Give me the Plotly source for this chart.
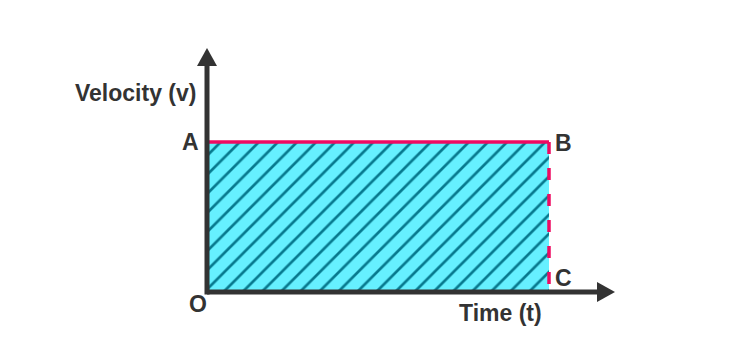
import plotly.graph_objects as go

# ---- data (arbitrary units) ----
t_end = [10.0]          # time at B / C
v_const = [5.0]         # constant velocity (A / B)
axis_x_max = [11.93]    # tip of the time axis arrow
axis_y_max = [8.13]     # tip of the velocity axis arrow
point_labels = ["A", "B", "C", "O"]
axis_titles = ["Time (t)", "Velocity (v)"]

T = t_end[0]
V = v_const[0]
XM = axis_x_max[0]
YM = axis_y_max[0]

W, H = 750, 351
# pixel scale
px_per_x = 34.2
px_per_y = 30.0
x0_px, y0_px = 207, 292
x_range = [-x0_px / px_per_x, (W - x0_px) / px_per_x]
y_range = [-(H - y0_px) / px_per_y, y0_px / px_per_y]

AX = "#333333"
PINK = "#EE0A62"
FONT = dict(family="Liberation Sans, Arial, sans-serif", size=23, color="#333333", weight="bold")

fig = go.Figure()

# hatched area (displacement)
fig.add_trace(go.Scatter(
    x=[0, T, T, 0, 0], y=[0, 0, V, V, 0], mode="lines", fill="toself",
    line=dict(width=0, color="rgba(0,0,0,0)"),
    fillcolor="#66F0FF",
    fillpattern=dict(shape="/", bgcolor="#66F0FF", fgcolor="#07798E", fgopacity=1,
                     size=13.5, solidity=0.2),
    hoverinfo="skip", showlegend=False))

# top line A-B
fig.add_trace(go.Scatter(x=[0, T], y=[V, V], mode="lines",
                         line=dict(color=PINK, width=3.5), showlegend=False, hoverinfo="skip"))

# axes lines
head_len_px = 18
head_half_px = 10
xl = XM - head_len_px / px_per_x
yl = YM - head_len_px / px_per_y
fig.add_trace(go.Scatter(x=[0, xl + 0.1], y=[0, 0], mode="lines",
                         line=dict(color=AX, width=5), showlegend=False, hoverinfo="skip"))
fig.add_trace(go.Scatter(x=[0, 0], y=[-2.5 / px_per_y, yl + 0.1], mode="lines",
                         line=dict(color=AX, width=5), showlegend=False, hoverinfo="skip"))
# arrow heads
hx = head_half_px / px_per_y
fig.add_trace(go.Scatter(x=[xl, XM, xl, xl], y=[hx, 0, -hx, hx], mode="lines", fill="toself",
                         fillcolor=AX, line=dict(width=0, color=AX), showlegend=False, hoverinfo="skip"))
hy = head_half_px / px_per_x
fig.add_trace(go.Scatter(x=[-hy, 0, hy, -hy], y=[yl, YM, yl, yl], mode="lines", fill="toself",
                         fillcolor=AX, line=dict(width=0, color=AX), showlegend=False, hoverinfo="skip"))

# dashed line B-C
fig.add_trace(go.Scatter(x=[T, T], y=[V, 0], mode="lines",
                         line=dict(color=PINK, width=3.5, dash="12px,14px"), showlegend=False, hoverinfo="skip"))

# labels
label_pos = {"A": (0, V, -17, 0), "B": (T, V, 14, -1), "C": (T, 0, 14, 14), "O": (0, 0, -9, -12)}
for lab in point_labels:
    x, y, dx, dy = label_pos[lab]
    fig.add_annotation(x=x, y=y, text=lab, showarrow=False, xshift=dx, yshift=dy,
                       font=FONT, xanchor="center", yanchor="middle")
fig.add_annotation(x=T, y=0, text=axis_titles[0], showarrow=False, xshift=-49, yshift=-21,
                   font=FONT, xanchor="center", yanchor="middle")
fig.add_annotation(x=0, y=V, text=axis_titles[1], showarrow=False, xshift=-72, yshift=49,
                   font=FONT, xanchor="center", yanchor="middle")

fig.update_layout(
    width=W, height=H, margin=dict(l=0, r=0, t=0, b=0),
    paper_bgcolor="white", plot_bgcolor="white",
    xaxis=dict(range=x_range, visible=False, fixedrange=True),
    yaxis=dict(range=y_range, visible=False, fixedrange=True),
    showlegend=False,
)
fig.write_html("out.html")
